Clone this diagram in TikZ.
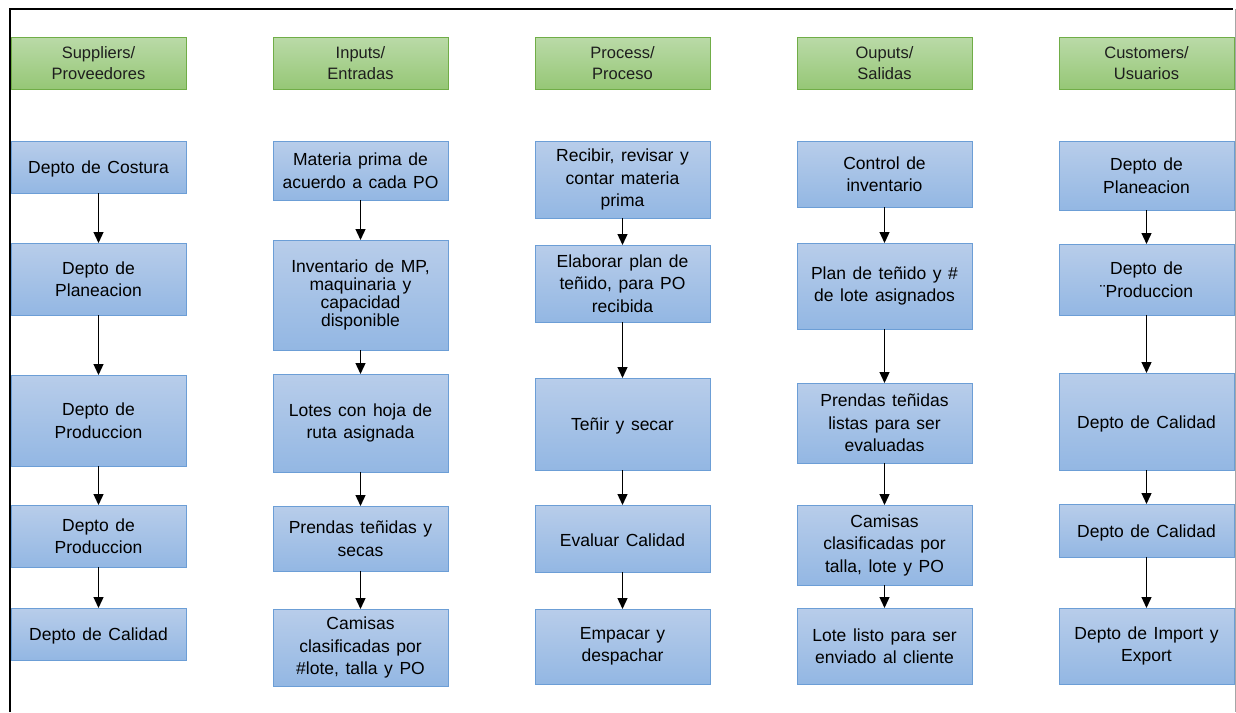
\documentclass[tikz,border=0pt]{standalone}
\usepackage{fontspec}
\setmainfont{Liberation Sans}[WordSpace=1.35]
\usetikzlibrary{arrows.meta}
\definecolor{bxtop}{RGB}{184,205,234}
\definecolor{bxbot}{RGB}{147,183,227}
\definecolor{bxline}{RGB}{108,158,214}
\definecolor{hdtop}{RGB}{186,218,168}
\definecolor{hdbot}{RGB}{150,199,118}
\definecolor{hdline}{RGB}{112,173,71}
\definecolor{hdtext}{RGB}{30,30,30}
\tikzset{
  flowbox/.style={draw=bxline, line width=1pt, top color=bxtop, bottom color=bxbot,
    inner sep=0pt, outer sep=0pt, align=center, text=black,
    font=\fontsize{17.5}{22.5}\selectfont,
    execute at begin node={\rule{0pt}{17pt}}},
  headbox/.style={draw=hdline, line width=1pt, top color=hdtop, bottom color=hdbot,
    inner sep=0pt, outer sep=0pt, align=center, text=hdtext,
    font=\fontsize{16.5}{21.5}\selectfont,
    execute at begin node={\rule{0pt}{15pt}}},
  flowarrow/.style={draw=black, line width=1.3pt, -{Triangle[width=10pt,length=11pt]}},
}
\newcommand\mybox[7]{%
  \pgfmathsetmacro\bw{#5-#3}\pgfmathsetmacro\bh{#6-#4}%
  \node[#1, minimum width=\bw pt, minimum height=\bh pt] (#2) at ({(#3+#5)/2},{(#4+#6)/2}) {#7};}
\begin{document}
\begin{tikzpicture}[x=1pt,y=-1pt]
\useasboundingbox (0,0) rectangle (1236,712);
% frame
\draw[line width=2pt] (10,712) -- (10,9) -- (1233,9);
\draw[black!35, line width=0.8pt] (1235,9) -- (1235,712);
% headers
\mybox{headbox}{h1}{11}{37}{186}{89}{Suppliers/\\Proveedores}
\mybox{headbox}{h2}{273}{37}{448}{89}{Inputs/\\Entradas}
\mybox{headbox}{h3}{535}{37}{710}{89}{Process/\\Proceso}
\mybox{headbox}{h4}{797}{37}{972}{89}{Ouputs/\\Salidas}
\mybox{headbox}{h5}{1059}{37}{1234}{89}{Customers/\\Usuarios}
% column 1
\mybox{flowbox}{a1}{11}{141}{186}{193}{Depto de Costura}
\mybox{flowbox}{a2}{11}{243}{186}{315}{Depto de\\Planeacion}
\mybox{flowbox}{a3}{11}{375}{186}{466}{Depto de\\Produccion}
\mybox{flowbox}{a4}{11}{505}{186}{567}{Depto de\\Produccion}
\mybox{flowbox}{a5}{11}{608}{186}{660}{Depto de Calidad}
% column 2
\mybox{flowbox}{b1}{273}{141}{448}{200}{Materia prima de\\acuerdo a cada PO}
\node[flowbox, font=\fontsize{17.5}{18}\selectfont, minimum width=175pt, minimum height=110pt] (b2) at (360.5,295) {Inventario de MP,\\maquinaria y\\capacidad\\disponible};
\mybox{flowbox}{b3}{273}{374}{448}{472}{Lotes con hoja de\\ruta asignada}
\mybox{flowbox}{b4}{273}{506}{448}{571}{Prendas teñidas y\\secas}
\mybox{flowbox}{b5}{273}{609}{448}{686}{Camisas\\clasificadas por\\\#lote, talla y PO}
% column 3
\mybox{flowbox}{c1}{535}{141}{710}{218}{Recibir, revisar y\\contar materia\\prima}
\mybox{flowbox}{c2}{535}{245}{710}{322}{Elaborar plan de\\teñido, para PO\\recibida}
\mybox{flowbox}{c3}{535}{378}{710}{470}{Teñir y secar}
\mybox{flowbox}{c4}{535}{505}{710}{572}{Evaluar Calidad}
\mybox{flowbox}{c5}{535}{609}{710}{684}{Empacar y\\despachar}
% column 4
\mybox{flowbox}{d1}{797}{141}{972}{207}{Control de\\inventario}
\mybox{flowbox}{d2}{797}{243}{972}{329}{Plan de teñido y \#\\de lote asignados}
\mybox{flowbox}{d3}{797}{383}{972}{463}{Prendas teñidas\\listas para ser\\evaluadas}
\mybox{flowbox}{d4}{797}{505}{972}{585}{Camisas\\clasificadas por\\talla, lote y PO}
\mybox{flowbox}{d5}{797}{608}{972}{684}{Lote listo para ser\\enviado al cliente}
% column 5
\mybox{flowbox}{e1}{1059}{141}{1234}{210}{Depto de\\Planeacion}
\mybox{flowbox}{e2}{1059}{244}{1234}{315}{Depto de\\¨Produccion}
\mybox{flowbox}{e3}{1059}{373}{1234}{470}{Depto de Calidad}
\mybox{flowbox}{e4}{1059}{504}{1234}{557}{Depto de Calidad}
\mybox{flowbox}{e5}{1059}{608}{1234}{684}{Depto de Import y\\Export}
% arrows
\foreach \c in {a,b,c,d,e}{
  \draw[flowarrow] (\c1.south) -- (\c2.north);
  \draw[flowarrow] (\c2.south) -- (\c3.north);
  \draw[flowarrow] (\c3.south) -- (\c4.north);
  \draw[flowarrow] (\c4.south) -- (\c5.north);
}
\end{tikzpicture}
\end{document}
